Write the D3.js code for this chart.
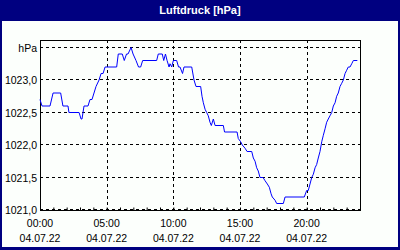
<!DOCTYPE html>
<html lang="de">
<head>
<meta charset="UTF-8">
<title>Luftdruck [hPa]</title>
<script src="https://d3js.org/d3.v7.min.js"></script>
<style>
  body { margin: 0; background: #000080; }
  svg { display: block; }
  text { font-family: Tahoma, "Liberation Sans", Arial, sans-serif; }
</style>
</head>
<body>
<div id="chart"></div>
<script>
// Messwerte 04.07.22 (Stunde seit Mitternacht, Luftdruck hPa)
const hours = [0, 0.15, 0.75, 0.98, 1.55, 1.72, 2.1, 2.17, 2.93, 3.08, 3.15, 3.3, 3.6, 3.75, 3.9,
  4.2, 4.43, 4.58, 4.73, 4.88, 5.75, 5.87, 6.17, 6.32, 6.49, 6.6, 6.83, 6.98, 7.2, 7.39, 7.55,
  7.7, 8.75, 8.87, 9.17, 9.28, 9.41, 9.53, 9.68, 9.75, 9.88, 10.0, 10.25, 10.39, 10.5, 10.69,
  10.8, 11.38, 11.55, 11.7, 12.05, 12.15, 12.25, 12.38, 12.5, 12.62, 12.75, 12.85, 13.0, 13.13,
  13.75, 13.84, 14.78, 14.87, 15.05, 15.17, 15.38, 15.53, 15.88, 16.0, 16.13, 16.25, 16.37,
  16.5, 16.73, 16.88, 17.05, 17.2, 17.33, 17.42, 17.63, 17.75, 18.25, 18.38, 19.82, 20.0,
  20.12, 20.25, 20.38, 20.5, 20.63, 20.75, 20.87, 21.0, 21.13, 21.25, 21.38, 21.5, 21.62,
  21.75, 21.88, 22.0, 22.13, 22.25, 22.37, 22.5, 22.63, 22.75, 22.88, 23.0, 23.12, 23.25,
  23.38, 23.5, 23.8];
const pressure = [1022.7, 1022.6, 1022.6, 1022.8, 1022.8, 1022.6, 1022.6, 1022.5, 1022.5, 1022.4,
  1022.4, 1022.6, 1022.6, 1022.7, 1022.7, 1022.9, 1023.0, 1023.1, 1023.1, 1023.2, 1023.2,
  1023.4, 1023.4, 1023.3, 1023.4, 1023.4, 1023.5, 1023.4, 1023.3, 1023.2, 1023.2, 1023.3,
  1023.3, 1023.4, 1023.4, 1023.3, 1023.4, 1023.3, 1023.2, 1023.25, 1023.2, 1023.3, 1023.3,
  1023.2, 1023.2, 1023.1, 1023.2, 1023.2, 1023.0, 1022.9, 1022.9, 1022.75, 1022.65, 1022.55,
  1022.5, 1022.45, 1022.35, 1022.3, 1022.4, 1022.3, 1022.3, 1022.2, 1022.2, 1022.1, 1022.05,
  1022.0, 1021.95, 1021.9, 1021.9, 1021.8, 1021.75, 1021.65, 1021.6, 1021.5, 1021.5, 1021.45,
  1021.4, 1021.35, 1021.25, 1021.2, 1021.15, 1021.1, 1021.1, 1021.2, 1021.2, 1021.3, 1021.3,
  1021.4, 1021.5, 1021.55, 1021.65, 1021.7, 1021.8, 1021.9, 1022.05, 1022.15, 1022.25,
  1022.35, 1022.4, 1022.45, 1022.5, 1022.6, 1022.65, 1022.75, 1022.8, 1022.9, 1022.95,
  1023.0, 1023.1, 1023.15, 1023.2, 1023.2, 1023.25, 1023.3, 1023.3];

const yTicks = [1021.0, 1021.5, 1022.0, 1022.5, 1023.0, 1023.5];
const xTicks = [0, 5, 10, 15, 20];
const dateLabel = "04.07.22";

const W = 400, H = 250;
const svg = d3.select("#chart").append("svg")
    .attr("width", W)
    .attr("height", H);

// Rahmen + Titel
svg.append("rect").attr("width", W).attr("height", H).attr("fill", "#000080");
svg.append("rect")
    .attr("x", 2).attr("y", 21)
    .attr("width", 396).attr("height", 226)
    .attr("fill", "#fcfffc");
svg.append("text")
    .attr("x", W / 2).attr("y", 14)
    .attr("text-anchor", "middle")
    .attr("fill", "#fff")
    .style("font-size", "11px")
    .style("font-weight", "bold")
    .text("Luftdruck [hPa]");

const pLeft = 40, pRight = 360, pTop = 40, pBottom = 210;

const x = d3.scaleLinear().domain([0, 24]).range([pLeft, pRight]);
const y = d3.scaleLinear().domain([1021, 1023.5]).range([pBottom, 47.5]);

// Gitter
svg.append("g")
    .selectAll("line")
    .data(yTicks)
    .join("line")
    .attr("x1", pLeft).attr("x2", pRight)
    .attr("y1", d => Math.round(y(d)) - 0.5)
    .attr("y2", d => Math.round(y(d)) - 0.5)
    .attr("stroke", "#000")
    .attr("stroke-dasharray", "3,3");

svg.append("g")
    .selectAll("line")
    .data(xTicks.slice(1))
    .join("line")
    .attr("x1", d => Math.round(x(d)) + 0.5)
    .attr("x2", d => Math.round(x(d)) + 0.5)
    .attr("y1", pTop).attr("y2", pBottom)
    .attr("stroke", "#000")
    .attr("stroke-dasharray", "3,3");

// Achsen
const xAxis = svg.append("g")
    .attr("transform", `translate(0,${pBottom + 0.5})`)
    .call(d3.axisTop(x).ticks(24).tickSize(3).tickFormat(""));
xAxis.select(".domain").remove();
xAxis.selectAll("line").attr("stroke", "#000");

svg.append("rect")
    .attr("x", pLeft + 0.5).attr("y", pTop + 0.5)
    .attr("width", pRight - pLeft).attr("height", pBottom - pTop)
    .attr("fill", "none")
    .attr("stroke", "#000");

// Beschriftung
svg.append("g")
    .selectAll("text")
    .data(yTicks)
    .join("text")
    .attr("x", 37)
    .attr("y", d => y(d) + 4)
    .attr("text-anchor", "end")
    .style("font-size", "10.5px")
    .attr("fill", "#000")
    .text(d => d === 1023.5 ? "hPa" : d3.format(".1f")(d).replace(".", ","));

const xl = svg.append("g")
    .selectAll("g")
    .data(xTicks)
    .join("g")
    .attr("transform", d => `translate(${x(d)},0)`);
xl.append("text")
    .attr("y", 227)
    .attr("text-anchor", "middle")
    .style("font-size", "10.5px")
    .text(d => String(d).padStart(2, "0") + ":00");
xl.append("text")
    .attr("y", 242)
    .attr("text-anchor", "middle")
    .style("font-size", "10.5px")
    .text(dateLabel);

// Kurve
const line = d3.line()
    .x((d, i) => x(hours[i]))
    .y(d => y(d));

svg.append("path")
    .datum(pressure)
    .attr("d", line)
    .attr("fill", "none")
    .attr("stroke", "#0000ff")
    .attr("stroke-width", 1);
</script>
</body>
</html>
